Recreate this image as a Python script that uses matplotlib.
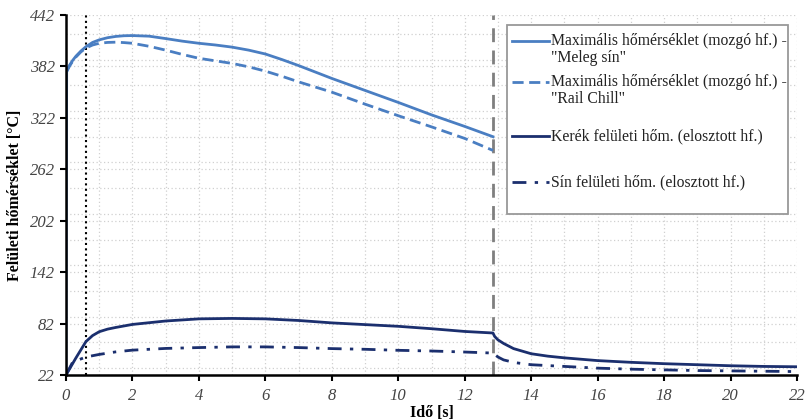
import matplotlib
matplotlib.use("Agg")
import matplotlib.pyplot as plt
from matplotlib.patches import Rectangle
from matplotlib.lines import Line2D
from matplotlib.ticker import MultipleLocator

plt.rcParams['font.family'] = ['Liberation Serif', 'DejaVu Serif']

# ---- data ----
t_hot = [0, 0.02, 0.1, 0.2, 0.3, 0.45, 0.6, 0.8, 1.0, 1.25, 1.5, 1.75, 2, 2.5, 3, 3.5, 4, 4.5, 5, 5.5,
         6, 6.5, 7, 7.5, 8, 9, 10, 11, 12, 12.85]
hot = [22, 376, 383, 389, 394, 400, 405, 410, 413, 415.5, 417, 417.8, 418, 417.3, 414.5, 411.5, 409,
       407, 404.5, 401, 396.5, 390, 383, 375.5, 368, 354, 340, 325.5, 312, 300]

t_chill = [0.02, 0.1, 0.2, 0.3, 0.45, 0.6, 0.8, 1.0, 1.25, 1.5, 1.75, 2, 2.5, 3, 3.5, 4, 4.5, 5, 5.5,
           6, 6.5, 7, 8, 9, 10, 11, 12, 12.85]
chill = [376, 382, 388, 393, 399, 403.5, 407, 409, 410, 410.3, 409.8, 409, 405.5, 401, 396, 391.5,
         388.5, 385.5, 381.5, 376.5, 370.5, 364, 352, 338, 324.5, 311.5, 298, 284]

t_wheel = [0, 0.3, 0.6, 0.8, 1.0, 1.25, 1.5, 2, 3, 4, 5, 6, 7, 8, 9, 10, 11, 12, 12.85,
           12.9, 13.0, 13.17, 13.47, 14, 14.5, 15, 16, 17, 18, 19, 20, 21, 22]
wheel = [22, 42, 61, 68, 72.5, 75.5, 77.5, 81, 85, 87.5, 88, 87.5, 85.6, 82.8, 80.8, 78.8, 76, 72.8,
         71, 67, 63, 58.8, 52.8, 46.8, 44, 42, 38.8, 36.8, 35.2, 34, 32.8, 32, 31.6]

t_rail = [0, 0.2, 0.6, 1, 1.5, 2, 3, 4, 5, 6, 7, 8, 9, 10, 11, 12, 12.85,
          13.0, 13.17, 13.5, 14, 15, 16, 17, 18, 19, 20, 21, 22]
rail = [22, 37, 43, 46, 49, 51, 53, 54, 54.8, 54.8, 54, 52.8, 52, 50.8, 50, 48.8, 47.6,
        43, 39.6, 36.5, 34, 32, 30, 28.8, 28, 27.2, 26.8, 26.4, 26]

labels = ['Maximális hőmérséklet (mozgó hf.) -\n"Meleg sín"',
          'Maximális hőmérséklet (mozgó hf.) -\n"Rail Chill"',
          'Kerék felületi hőm. (elosztott hf.)',
          'Sín felületi hőm. (elosztott hf.)']

x_ticks = list(range(0, 23, 2))
y_ticks = [22, 82, 142, 202, 262, 322, 382, 442]
t_start = 0.6
t_end = 12.85

light = '#4a7ec2'
navy = '#1b2f6e'

fig = plt.figure(figsize=(8.05, 4.20), dpi=100)
ax = fig.add_axes([66/805, 45/420, 731/805, 360/420])

ax.set_xlim(0, 22)
ax.set_ylim(22, 442)
ax.set_xticks(x_ticks)
ax.set_yticks(y_ticks)
ax.xaxis.set_minor_locator(MultipleLocator(1))
ax.yaxis.set_minor_locator(MultipleLocator(30))
ax.grid(True, which='both', color='#d0d0d0', linestyle=(0, (1, 2)), linewidth=0.9)
ax.set_axisbelow(True)
ax.tick_params(which='minor', length=0)
ax.tick_params(which='major', direction='out', length=4, width=1.5, color='black')
for lab in ax.get_xticklabels() + ax.get_yticklabels():
    lab.set_fontstyle('italic')
    lab.set_fontsize(12)
    lab.set_color('#444444')
ax.tick_params(axis='x', pad=5)
ax.tick_params(axis='y', pad=4)

for s in ['top', 'right']:
    ax.spines[s].set_visible(False)
for s in ['left', 'bottom']:
    ax.spines[s].set_linewidth(1.8)
    ax.spines[s].set_zorder(5)

ax.axvline(t_start, color='black', linestyle=(0, (1, 1.6)), linewidth=1.5, zorder=3)
ax.axvline(t_end, color='#7f7f7f', linestyle=(0, (5, 3)), linewidth=2.0, zorder=3)

ls_solid = '-'
ls_dash = (0, (4, 2))
ls_dashdot = (0, (5, 3, 1.2, 3))
styles = [(light, ls_solid), (light, ls_dash), (navy, ls_solid), (navy, ls_dashdot)]
ax.plot(t_hot, hot, color=light, lw=2.0, linestyle=ls_solid, zorder=4)
ax.plot(t_chill, chill, color=light, lw=2.0, linestyle=ls_dash, zorder=4)
ax.plot(t_wheel, wheel, color=navy, lw=2.0, linestyle=ls_solid, zorder=4)
ax.plot(t_rail, rail, color=navy, lw=2.0, linestyle=ls_dashdot, zorder=4)

ax.set_xlabel('Idő [s]', fontsize=11.5, fontweight='bold', labelpad=1)
ax.set_ylabel('Felületi hőmérséklet [°C]', fontsize=11.5, fontweight='bold', labelpad=5)

# ---- legend drawn manually ----
def ax_x(px):
    return (px - 66) / 731
def ax_y(py):
    return (375 - py) / 360

box = Rectangle((ax_x(507), ax_y(214)), ax_x(788) - ax_x(507), ax_y(25) - ax_y(214),
                transform=ax.transAxes, facecolor='white', edgecolor='#999999',
                linewidth=1.3, zorder=10)
ax.add_patch(box)
entry_y = [41, 82, 136, 182]
for (col, ls), py, lab in zip(styles, entry_y, labels):
    ax.add_line(Line2D([ax_x(512), ax_x(549)], [ax_y(py), ax_y(py)], transform=ax.transAxes,
                       color=col, linestyle=ls, lw=2.0, zorder=11))
    for k, part in enumerate(lab.split('\n')):
        ax.text(ax_x(551), ax_y(py + 17 * k), part, transform=ax.transAxes, fontsize=11.3,
                va='center', ha='left', color='#222222', zorder=12)

fig.savefig('out.png', dpi=100)
